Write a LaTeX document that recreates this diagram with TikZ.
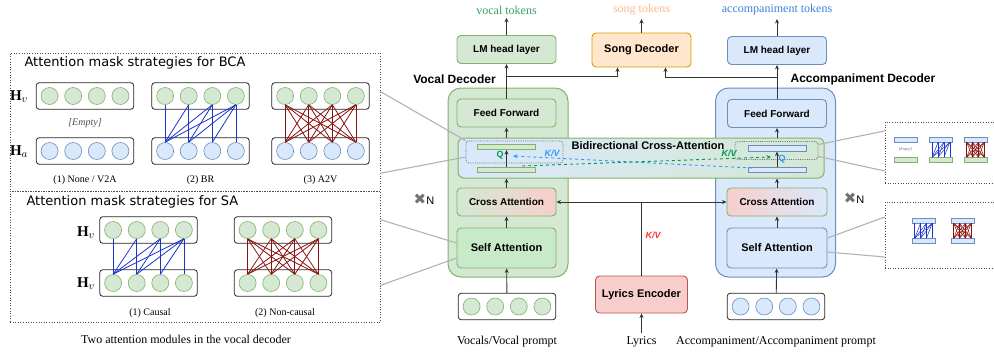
\documentclass[tikz,border=0pt]{standalone}
\usepackage{fontspec}
\setmainfont{Liberation Serif}
\setsansfont{Liberation Sans}
\newfontfamily\comicfont{DejaVu Sans}
\newfontfamily\symbfont{DejaVu Sans}
\usepackage{xcolor}
\usepackage{tikz}
\usetikzlibrary{positioning,shapes,arrows.meta,calc,matrix,backgrounds}

\definecolor{gfill}{HTML}{D5E8D4}
\definecolor{gline}{HTML}{82B366}
\definecolor{safill}{HTML}{C8EAC8}
\definecolor{bfill}{HTML}{DAE8FC}
\definecolor{bline}{HTML}{6C8EBF}
\definecolor{ofill}{HTML}{FFE6CC}
\definecolor{oline}{HTML}{D79B00}
\definecolor{rfill}{HTML}{F8CECC}
\definecolor{rline}{HTML}{B85450}
\definecolor{kvblue}{HTML}{3399FF}
\definecolor{kvgreen}{HTML}{00994D}
\definecolor{kvred}{HTML}{FF3333}
\definecolor{vtokc}{HTML}{33A060}
\definecolor{stokc}{HTML}{F7B98B}
\definecolor{atokc}{HTML}{3F7FD8}
\definecolor{maskblue}{HTML}{1A33CC}
\definecolor{maskred}{HTML}{8B1010}

\newcommand{\causalrow}[2]{\foreach \i in {1,...,4}{\foreach \j in {1,...,\i}{\draw[bluemask] (#1-1-\i.south) -- (#2-1-\j.north);}}}
\newcommand{\fullrow}[2]{\foreach \i in {1,...,4}{\foreach \j in {1,...,4}{\draw[redmask] (#1-1-\i.south) -- (#2-1-\j.north);}}}
\newcommand{\causalbar}[2]{\foreach \i [evaluate=\i as \ti using (\i-0.5)/4] in {1,...,4}{\foreach \j [evaluate=\j as \tj using (\j-0.5)/4] in {1,...,\i}{\draw[bluemask,line width=0.5pt] ($(#1.south west)!\ti!(#1.south east)$) -- ($(#2.north west)!\tj!(#2.north east)$);}}}
\newcommand{\fullbar}[2]{\foreach \i [evaluate=\i as \ti using (\i-0.5)/4] in {1,...,4}{\foreach \j [evaluate=\j as \tj using (\j-0.5)/4] in {1,...,4}{\draw[redmask,line width=0.5pt] ($(#1.south west)!\ti!(#1.south east)$) -- ($(#2.north west)!\tj!(#2.north east)$);}}}

\begin{document}
\begin{tikzpicture}[x=1pt,y=-1pt,
		>={Stealth[length=4.5pt,width=4pt]},
		box/.style={draw, rounded corners=4pt, line width=0.9pt, minimum width=99pt, minimum height=28pt, font=\fontsize{10}{12}\selectfont\sffamily\bfseries},
		gbox/.style={box, fill=gfill, draw=gline},
		bbox/.style={box, fill=bfill, draw=bline},
		bigtxt/.style={font=\fontsize{11}{13}\selectfont\sffamily\bfseries},
		dec/.style={draw, rounded corners=13pt, line width=1pt, minimum width=120pt, minimum height=189pt},
		bar/.style={draw, line width=0.7pt, minimum width=58pt, minimum height=5.5pt, inner sep=0pt},
		gbar/.style={bar, fill=gfill, draw=gline},
		bbar/.style={bar, fill=bfill, draw=bline},
		minibar/.style={bar, minimum width=23pt, minimum height=5pt, line width=0.5pt},
		dotbox/.style={draw=black!55, densely dotted, rounded corners=3pt, line width=0.8pt},
		panel/.style={draw=black!70, dotted, line width=0.6pt},
		flow/.style={draw=black!80, line width=0.9pt},
		link/.style={draw=black!30, line width=1.1pt},
		kv/.style={font=\fontsize{9}{10}\selectfont\sffamily\bfseries\itshape},
		qlab/.style={font=\fontsize{9}{10}\selectfont\sffamily\bfseries},
		rep/.style={font=\fontsize{11}{12}\selectfont\sffamily},
		vec/.style={matrix of nodes, draw=black!85, line width=0.8pt, rounded corners=3pt, fill=white, anchor=center,
			inner sep=4.5pt, column sep=6pt, nodes in empty cells,
			nodes={circle, minimum size=17pt, inner sep=0pt, line width=0.6pt}},
		gvec/.style={vec, nodes={fill=gfill, draw=gline}},
		bvec/.style={vec, nodes={fill=bfill, draw=bline}},
		bluemask/.style={draw=maskblue, line width=0.8pt},
		redmask/.style={draw=maskred, line width=0.8pt},
		tok/.style={font=\fontsize{12}{14}\selectfont},
		sub/.style={font=\fontsize{10}{12}\selectfont},
		ttl/.style={anchor=west, font=\comicfont\fontsize{13}{15}\selectfont},
		hlab/.style={font=\fontsize{15}{17}\selectfont}]
	\useasboundingbox (0,0) rectangle (994,354);

	\node[panel, minimum width=370pt, minimum height=138pt] (bcapanel) at (195,122) {};
	\node[panel, minimum width=370pt, minimum height=131pt] (sapanel) at (195,256.5) {};
	\node[ttl] (bcattl) at (21,63) {Attention mask strategies for BCA};
	\node[ttl] (sattl) at (23,202) {Attention mask strategies for SA};

	\matrix[gvec] (bv1) at (85,96) {&&&\\};
	\matrix[bvec] (ba1) at (85,151) {&&&\\};
	\matrix[gvec] (bv2) at (200.5,96) {&&&\\};
	\matrix[bvec] (ba2) at (200.5,151) {&&&\\};
	\matrix[gvec] (bv3) at (320.5,96) {&&&\\};
	\matrix[bvec] (ba3) at (320.5,151) {&&&\\};
	\node[hlab] (hv) at (19,97) {$\mathbf{H}_v$};
	\node[hlab] (ha) at (19,152) {$\mathbf{H}_a$};
	\node[sub, font=\fontsize{10}{12}\selectfont\itshape, text=black!70] (empty) at (85,123) {[Empty]};
	\causalrow{bv2}{ba2}
	\fullrow{bv3}{ba3}
	\node[sub] (none) at (85,180) {(1) None / V2A};
	\node[sub] (br) at (200.5,180) {(2) BR};
	\node[sub] (a2v) at (320.5,180) {(3) A2V};

	\matrix[gvec] (sv1) at (148.5,230) {&&&\\};
	\matrix[gvec] (sq1) at (148.5,283) {&&&\\};
	\matrix[gvec] (sv2) at (283,230) {&&&\\};
	\matrix[gvec] (sq2) at (283,283) {&&&\\};
	\node[hlab] (shv1) at (86,233) {$\mathbf{H}_v$};
	\node[hlab] (shv2) at (86,284) {$\mathbf{H}_v$};
	\causalrow{sv1}{sq1}
	\fullrow{sv2}{sq2}
	\node[sub] (causal) at (150,313) {(1) Causal};
	\node[sub] (noncausal) at (285,313) {(2) Non-causal};
	\node[tok] (caption) at (186,339) {Two attention modules in the vocal decoder};

	\node[dec, fill=gfill, draw=gline] (vdec) at (508,182.5) {};
	\node[dec, fill=bfill, draw=bline] (adec) at (775.5,182.5) {};
	\node[font=\fontsize{12}{14}\selectfont\sffamily\bfseries] (vdlab) at (454.5,79) {Vocal Decoder};
	\node[font=\fontsize{12}{14}\selectfont\sffamily\bfseries] (adlab) at (863,79) {Accompaniment Decoder};

	\node[gbox] (vlm) at (506.5,49.5) {LM head layer};
	\node[box, fill=ofill, draw=oline, minimum height=34pt, bigtxt] (song) at (641.5,50) {Song Decoder};
	\node[bbox] (alm) at (777,50.5) {LM head layer};
	\node[tok, text=vtokc] (vtok) at (506.5,10) {vocal tokens};
	\node[tok, text=stokc] (stok) at (641.5,10) {song tokens};
	\node[tok, text=atokc] (atok) at (777,10) {accompaniment tokens};

	\node[gbox] (vff) at (506.5,113) {Feed Forward};
	\node[bbox] (aff) at (777,113.5) {Feed Forward};

	\node[draw=gline, line width=1pt, rounded corners=6pt, left color=bfill, right color=gfill,
		minimum width=366pt, minimum height=40pt] (bca) at (641,158) {};
	\node[bigtxt] (bcalab) at (648,146) {Bidirectional Cross-Attention};
	\node[dotbox, minimum width=97pt, minimum height=22pt] (vdot) at (514.5,152) {};
	\node[gbar] (vbar1) at (506.5,147) {};
	\node[gbar] (vbar2) at (506.5,170) {};
	\node[dotbox, minimum width=83pt, minimum height=18pt] (adot) at (776.5,150.5) {};
	\node[bbar] (abar1) at (777,148.5) {};
	\node[bbar] (abar2) at (777,170) {};

	\node[box, draw=gline, left color=gfill!80!safill, right color=rfill] (vca) at (506.5,202) {Cross Attention};
	\node[box, fill=safill, draw=gline, minimum height=40pt, bigtxt] (vsa) at (506.5,248) {Self Attention};
	\node[box, draw=gline, left color=rfill, right color=bfill, minimum width=100pt] (aca) at (777,202) {Cross Attention};
	\node[box, fill=bfill, draw=bline, minimum width=100pt, minimum height=40pt, bigtxt] (asa) at (777,248) {Self Attention};
	\node[rep] (vn) at (424,199) {{\symbfont\fontsize{15}{15}\selectfont\color{black!55}✖}N};
	\node[rep] (an) at (854,198) {{\symbfont\fontsize{15}{15}\selectfont\color{black!55}✖}N};

	\node[box, fill=rfill, draw=rline, minimum width=92pt, minimum height=37pt, bigtxt] (lenc) at (641.5,294.5) {Lyrics Encoder};
	\matrix[gvec] (vin) at (507,306.5) {&&&\\};
	\matrix[bvec] (ain) at (776,306.5) {&&&\\};
	\node[tok] (vinlab) at (507,342) {Vocals/Vocal prompt};
	\node[tok] (lyr) at (641.5,342) {Lyrics};
	\node[tok] (ainlab) at (776,342) {Accompaniment/Accompaniment prompt};

	\draw[flow,->] (vlm.north) -- (vtok.south);
	\draw[flow,->] (song.north) -- (stok.south);
	\draw[flow,->] (alm.north) -- (atok.south);
	\draw[flow,->] (vff.north) -- (vlm.south);
	\draw[flow,->] (aff.north) -- (alm.south);
	\coordinate (vsplit) at ($(vlm.south)!0.37!(vff.north)$);
	\coordinate (asplit) at ($(alm.south)!0.37!(aff.north)$);
	\draw[flow,->] (vsplit) -| ([xshift=-24pt]song.south);
	\draw[flow,->] (asplit) -| ([xshift=24pt]song.south);
	\draw[flow,->] (vff.south |- bca.north) -- (vff.south);
	\draw[flow,->] (aff.south |- bca.north) -- (aff.south);
	\draw[flow,->] (vbar2.north) -- (vbar1.south);
	\draw[flow,->] (abar2.north) -- (abar1.south);
	\draw[flow,->] (vca.north) -- (vca.north |- bca.south);
	\draw[flow,->] (aca.north) -- (aca.north |- bca.south);
	\draw[flow,->] (vsa) -- (vca);
	\draw[flow,->] (asa) -- (aca);
	\draw[flow,->] (vin) -- (vsa);
	\draw[flow,->] (ain) -- (asa);
	\draw[flow,->] (lyr) -- (lenc);
	\coordinate (kvsplit) at (lenc.north |- vca.east);
	\draw[flow,->] (lenc.north) -- (kvsplit) -- (vca.east);
	\draw[flow,->] (kvsplit) -- (aca.west);
	\node[kv, text=kvred] (kvlyr) at (653,235) {K/V};

	\coordinate (vkv) at (522,166);
	\coordinate (aq) at (771,157);
	\coordinate (akv) at (752,168);
	\coordinate (vq) at (513,156);
	\draw[dashed, draw=kvblue, line width=0.9pt, ->] (akv) -- (vq);
	\draw[dashed, draw=kvgreen, line width=0.9pt, ->] (vkv) -- (aq);
	\node[qlab, text=kvgreen] (vqlab) at (500,155) {Q};
	\node[kv, text=kvblue] (vkvlab) at (552,153) {K/V};
	\node[kv, text=kvgreen] (akvlab) at (729,153) {K/V};
	\node[qlab, text=kvblue] (aqlab) at (782,159) {Q};

	\node[panel, minimum width=115pt, minimum height=61pt] (rbca) at (942.5,152.5) {};
	\node[panel, minimum width=115pt, minimum height=66pt] (rsa) at (942.5,235) {};
	\node[minibar, fill=bfill, draw=bline] (m1t) at (905.5,139.5) {};
	\node[font=\fontsize{4}{5}\selectfont\itshape, text=black!60] (m1e) at (905.5,149.5) {[Empty]};
	\node[minibar, fill=gfill, draw=gline] (m1b) at (905.5,160) {};
	\node[minibar, fill=bfill, draw=bline] (m2t) at (941,139.5) {};
	\node[minibar, fill=gfill, draw=gline] (m2b) at (941,160) {};
	\node[minibar, fill=bfill, draw=bline] (m3t) at (975.5,139.5) {};
	\node[minibar, fill=gfill, draw=gline] (m3b) at (975.5,160) {};
	\causalbar{m2t}{m2b}
	\fullbar{m3t}{m3b}
	\node[minibar, fill=bfill, draw=bline] (s1t) at (923.5,220.5) {};
	\node[minibar, fill=bfill, draw=bline] (s1b) at (923.5,241) {};
	\node[minibar, fill=bfill, draw=bline] (s2t) at (962.5,220.5) {};
	\node[minibar, fill=bfill, draw=bline] (s2b) at (962.5,241) {};
	\causalbar{s1t}{s1b}
	\fullbar{s2t}{s2b}

	\draw[link] ($(bcapanel.north east)!0.28!(bcapanel.south east)$) -- (vdot.north west);
	\draw[link] ($(bcapanel.north east)!0.87!(bcapanel.south east)$) -- ([yshift=-5pt]vdot.west);
	\draw[link] ($(sapanel.north east)!0.22!(sapanel.south east)$) -- ([yshift=5pt]vsa.west);
	\draw[link] ($(sapanel.north east)!0.72!(sapanel.south east)$) -- ([yshift=-10pt]vsa.west);
	\draw[link] ([yshift=6pt]adot.east) -- ($(rbca.north west)!0.15!(rbca.south west)$);
	\draw[link] ([yshift=-6pt]adot.east) -- ($(rbca.north west)!0.8!(rbca.south west)$);
	\draw[link] ([yshift=10pt]asa.east) -- ($(rsa.north west)!0.23!(rsa.south west)$);
	\draw[link] ([yshift=-4pt]asa.east) -- ($(rsa.north west)!0.83!(rsa.south west)$);
\end{tikzpicture}
\end{document}
